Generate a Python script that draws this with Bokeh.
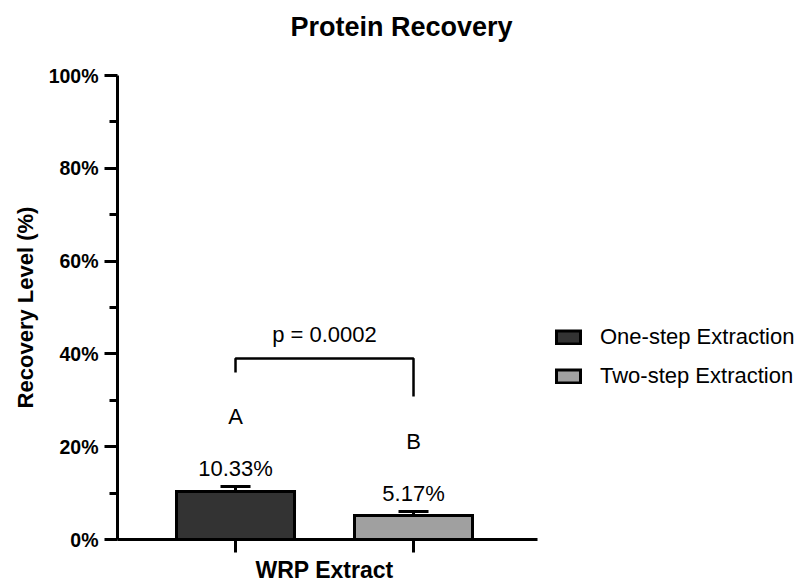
from bokeh.plotting import figure
from bokeh.models import (Range1d, FixedTicker, PrintfTickFormatter, ColumnDataSource,
                          Whisker, TeeHead, Title, Legend, LegendItem)
from bokeh.core.properties import value
from bokeh.embed import file_html
from bokeh.resources import INLINE

# ---- data ----
categories = ["One-step Extraction", "Two-step Extraction"]
x_pos = [1, 2]
means = [10.33, 5.17]
sds = [1.09, 0.86]
letters = ["A", "B"]
bar_colors = ["#333333", "#a0a0a0"]
p_text = "p = 0.0002"
bracket_top = 39.0
bracket_left_bottom = 36.0
bracket_right_bottom = 30.8
y_ticks = [0, 20, 40, 60, 80, 100]
y_minor = [10, 30, 50, 70, 90]

FONT = "Liberation Sans"
TXT_SHIFT = 1.7  # compensate text baseline rendering

upper = [m + s for m, s in zip(means, sds)]
lower = [m - s for m, s in zip(means, sds)]
val_labels = [f"{m:.2f}%" for m in means]
val_y = [u + 2.1 + TXT_SHIFT for u in upper]
let_y = [v + 11.3 for v in val_y]

src = ColumnDataSource(dict(x=x_pos, top=means, cat=categories, color=bar_colors,
                            upper=upper, lower=lower, vlab=val_labels, vy=val_y,
                            let=letters, ly=let_y))

X0, X_AXIS_END = 0.337, 2.697
p = figure(width=800, height=585, output_backend="svg", toolbar_location=None,
           x_range=Range1d(X0, X0 + 683 / 178), y_range=Range1d(0, 100),
           min_border_left=117, min_border_right=0, min_border_top=75,
           min_border_bottom=45)
p.outline_line_color = None
p.xgrid.visible = False
p.ygrid.visible = False

bars = p.vbar(x="x", top="top", width=0.663, source=src, fill_color="color",
              line_color="black", line_width=3, line_join="miter")

wh = Whisker(base="x", upper="upper", lower="lower", source=src, line_width=3,
             line_color="black",
             upper_head=TeeHead(size=30, line_width=3, line_color="black"),
             lower_head=TeeHead(size=30, line_width=3, line_color="black"))
p.add_layout(wh)

p.text(x="x", y="vy", text="vlab", source=src, text_font=value(FONT),
       text_font_size="22px", text_align="center", text_baseline="alphabetic",
       text_color="black")
p.text(x="x", y="ly", text="let", source=src, text_font=value(FONT),
       text_font_size="22px", text_align="center", text_baseline="alphabetic",
       text_color="black")

p.line(x=[x_pos[0], x_pos[0], x_pos[1], x_pos[1]],
       y=[bracket_left_bottom, bracket_top, bracket_top, bracket_right_bottom],
       line_color="black", line_width=2.5)
p.text(x=[(x_pos[0] + x_pos[1]) / 2], y=[bracket_top + 3.5 + TXT_SHIFT], text=[p_text],
       text_font=value(FONT), text_font_size="22px", text_align="center",
       text_baseline="alphabetic", text_color="black")

# axes
for ax in (p.xaxis[0], p.yaxis[0]):
    ax.axis_line_width = 3
    ax.axis_line_color = "black"
    ax.major_tick_line_width = 3
    ax.minor_tick_line_width = 3
    ax.major_tick_in = 0
    ax.minor_tick_in = 0
    ax.major_tick_out = 13
    ax.minor_tick_out = 8
    ax.axis_label_text_font = FONT
    ax.axis_label_text_font_style = "bold"
    ax.axis_label_text_color = "black"
    ax.major_label_text_font = FONT
    ax.major_label_text_font_style = "bold"
    ax.major_label_text_color = "black"

p.yaxis.ticker = FixedTicker(ticks=y_ticks, minor_ticks=y_minor)
p.yaxis.formatter = PrintfTickFormatter(format="%d%%")
p.yaxis.major_label_text_font_size = "19.5px"
p.yaxis.major_label_standoff = 6
p.yaxis.axis_label = "Recovery Level (%)"
p.yaxis.axis_label_text_font_size = "22px"
p.yaxis.axis_label_standoff = 8

p.xaxis.ticker = FixedTicker(ticks=x_pos, minor_ticks=[])
p.xaxis.major_label_overrides = {1: "", 2: ""}
p.xaxis.major_label_text_font_size = "0px"
p.xaxis.major_label_standoff = 0
p.xaxis.bounds = (X0, X_AXIS_END)

xlabel = Title(text="WRP Extract", text_font=FONT, text_font_size="23px",
               text_font_style="bold", text_color="black", align="left",
               offset=138, standoff=5)
p.add_layout(xlabel, "below")

# empty spacer between frame and title, then the title itself
spacer = Title(text=" ", text_font=FONT, text_font_size="24px", standoff=0)
p.add_layout(spacer, "above")
title = Title(text="Protein Recovery", text_font=FONT, text_font_size="27px",
              text_font_style="bold", text_color="black", align="left",
              offset=173, standoff=10)
p.add_layout(title, "above")

legend = Legend(items=[LegendItem(label=value(c), renderers=[bars], index=i)
                       for i, c in enumerate(categories)],
                location=(436, 150), glyph_width=30, glyph_height=16,
                label_standoff=17, spacing=13, padding=0, margin=0,
                border_line_alpha=0, background_fill_alpha=0,
                label_text_font=FONT, label_text_font_size="22px",
                label_text_color="black")
p.add_layout(legend, "center")

open("out.html", "w").write(file_html(p, INLINE))
